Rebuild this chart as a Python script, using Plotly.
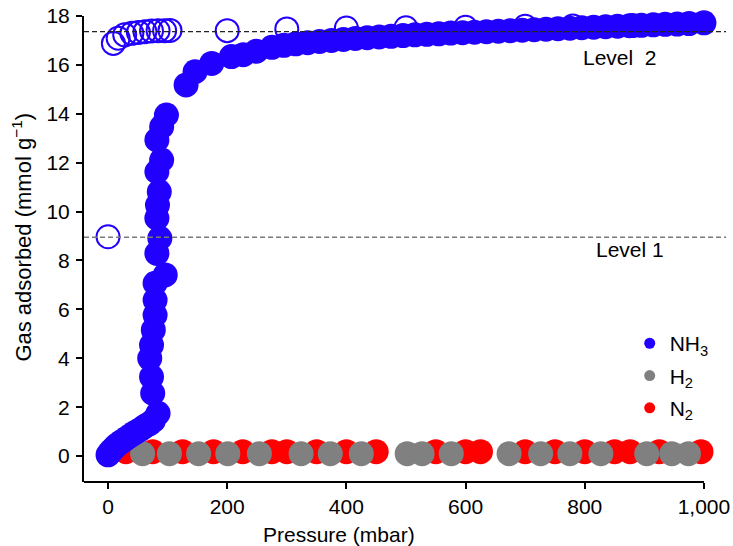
import plotly.graph_objects as go

# ---------------- data ----------------
# NH3 adsorption (filled circles)
nh3_ads_p = [0, 3, 6, 10, 14, 19, 24, 30, 36, 42, 48, 54, 59, 64, 70, 76, 84,
             75, 73, 70, 73, 76, 79, 79, 79, 96, 82, 87, 82, 83, 86, 82, 90, 82, 90, 98,
             131, 146, 174, 207, 227, 249, 275,
             295, 315, 335, 355, 375, 395, 415, 435, 455, 475, 495, 515, 535, 555,
             575, 595, 615, 635, 655, 675, 695, 715, 735, 755, 775, 795, 815, 835,
             855, 875, 895, 915, 935, 955, 975, 1000]
nh3_ads_q = [0.05, 0.14, 0.23, 0.33, 0.43, 0.52, 0.61, 0.71, 0.81, 0.91, 1.0, 1.08, 1.17, 1.25, 1.33, 1.45, 1.75,
             2.57, 3.24, 4.0, 4.54, 5.16, 5.77, 6.38, 7.07, 7.41, 8.29, 8.91, 9.73, 10.27, 10.81, 11.63, 12.11, 12.93, 13.47, 13.95,
             15.18, 15.72, 16.06, 16.34, 16.42, 16.56, 16.72,
             16.8, 16.86, 16.91, 16.96, 17.0, 17.04, 17.08, 17.11, 17.14, 17.17, 17.2, 17.23, 17.25, 17.27,
             17.3, 17.32, 17.34, 17.36, 17.38, 17.4, 17.42, 17.44, 17.46, 17.48, 17.5, 17.52, 17.54, 17.56,
             17.58, 17.6, 17.62, 17.64, 17.66, 17.67, 17.69, 17.72]

# NH3 desorption (open circles)
nh3_des_p = [0, 9, 17, 28, 40, 51, 62, 73, 84, 95, 104, 200, 300, 400, 500, 600, 700, 780, 880]
nh3_des_q = [8.97, 16.88, 17.09, 17.23, 17.29, 17.33, 17.36, 17.39, 17.4, 17.4, 17.41,
             17.4, 17.47, 17.51, 17.52, 17.54, 17.58, 17.59, 17.61]

# H2 (grey)
h2_p = [58, 103, 152, 201, 254, 324, 373, 425, 502, 527, 576, 673, 726, 775, 827, 904, 946, 974]
h2_q = [0.1] * len(h2_p)

# N2 (red)
n2_p = [30, 75, 125, 177, 226, 275, 300, 350, 400, 450, 550, 600, 625, 700, 750, 800, 850, 876, 925, 995]
n2_q = [0.18] * len(n2_p)

level1 = 8.95
level2 = 17.36

x_ticks = [0, 200, 400, 600, 800, 1000]
x_tick_labels = ["0", "200", "400", "600", "800", "1,000"]
y_ticks = [0, 2, 4, 6, 8, 10, 12, 14, 16, 18]

# ---------------- style ----------------
BLUE = "#2200ff"
GREY = "#808080"
RED = "#ff0000"
FONT = "Liberation Sans, Arial, sans-serif"
MS = 25

fig = go.Figure()

fig.add_trace(go.Scatter(x=n2_p, y=n2_q, mode="markers", showlegend=False,
                         marker=dict(size=MS, color=RED, line=dict(width=0)), cliponaxis=False))
fig.add_trace(go.Scatter(x=h2_p, y=h2_q, mode="markers", showlegend=False,
                         marker=dict(size=MS, color=GREY, line=dict(width=0)), cliponaxis=False))
fig.add_trace(go.Scatter(x=nh3_des_p, y=nh3_des_q, mode="markers", showlegend=False,
                         marker=dict(size=23, symbol="circle-open", color=BLUE, line=dict(width=2, color=BLUE)),
                         cliponaxis=False))
fig.add_trace(go.Scatter(x=nh3_ads_p, y=nh3_ads_q, mode="markers", showlegend=False,
                         marker=dict(size=MS, color=BLUE, line=dict(width=0)), cliponaxis=False))

# legend-only entries
for name, col, grp in [("NH<sub>3</sub>", BLUE, "a"), ("H<sub>2</sub>", GREY, "b"), ("N<sub>2</sub>", RED, "c")]:
    fig.add_trace(go.Scatter(x=[None], y=[None], mode="markers", name=name, legendgroup=grp,
                             marker=dict(size=11, color=col)))

# reference lines
fig.add_shape(type="line", xref="paper", x0=0, x1=1, yref="y", y0=level2, y1=level2,
              line=dict(color="#222222", width=1.4, dash="5px,3px"), layer="above")
fig.add_shape(type="line", xref="paper", x0=0, x1=1, yref="y", y0=level1, y1=level1,
              line=dict(color="#7a7a7a", width=1.4, dash="5px,3px"), layer="above")

# x axis line (ends at 1000)
fig.add_shape(type="line", xref="x", x0=-40.3, x1=1000, yref="paper", y0=0, y1=0,
              line=dict(color="black", width=2))

fig.add_annotation(x=859, y=16.3, xref="x", yref="y", text="Level\u00a0 2", showarrow=False,
                   font=dict(size=21, color="black", family=FONT), xanchor="center", yanchor="middle")
fig.add_annotation(x=876, y=8.45, xref="x", yref="y", text="Level 1", showarrow=False,
                   font=dict(size=21, color="black", family=FONT), xanchor="center", yanchor="middle")

fig.add_annotation(x=0.397, y=-0.112, xref="paper", yref="paper", text="Pressure (mbar)", showarrow=False,
                   font=dict(size=21, color="black", family=FONT), xanchor="center", yanchor="middle")
fig.add_annotation(x=-0.097, y=0.526, xref="paper", yref="paper", text="Gas adsorbed (mmol g<sup>−1</sup>)",
                   showarrow=False, textangle=-90,
                   font=dict(size=22, color="black", family=FONT), xanchor="center", yanchor="middle")

fig.update_xaxes(range=[-40.3, 1037], tickvals=x_ticks, ticktext=x_tick_labels,
                 ticks="outside", ticklen=6, tickwidth=1.5, tickcolor="black",
                 showline=False, showgrid=False, zeroline=False, automargin=False,
                 tickfont=dict(size=21, color="black", family=FONT))
fig.update_yaxes(range=[-1.06, 18], tickvals=y_ticks,
                 ticks="outside", ticklen=6, tickwidth=1.5, tickcolor="black",
                 showline=True, linewidth=2, linecolor="black", showgrid=False, zeroline=False,
                 automargin=False, ticklabelstandoff=2,
                 tickfont=dict(size=21, color="black", family=FONT))

fig.update_layout(
    width=733, height=546,
    margin=dict(l=84, r=7, t=16, b=64, autoexpand=False),
    plot_bgcolor="white", paper_bgcolor="white",
    font=dict(family=FONT, color="black"),
    legend=dict(x=0.85, y=0.341, xanchor="left", yanchor="top", bgcolor="rgba(0,0,0,0)",
                font=dict(size=21, family=FONT, color="black"),
                traceorder="grouped", tracegroupgap=2, itemsizing="trace"),
)

fig.write_html("out.html", config={"displayModeBar": False})

# remove the browser's default page margin so the figure sits at the window's top-left
with open("out.html", "r", encoding="utf-8") as f:
    html = f.read()
html = html.replace("<head>", "<head><style>html,body{margin:0;padding:0;overflow:hidden;}</style>", 1)
with open("out.html", "w", encoding="utf-8") as f:
    f.write(html)
